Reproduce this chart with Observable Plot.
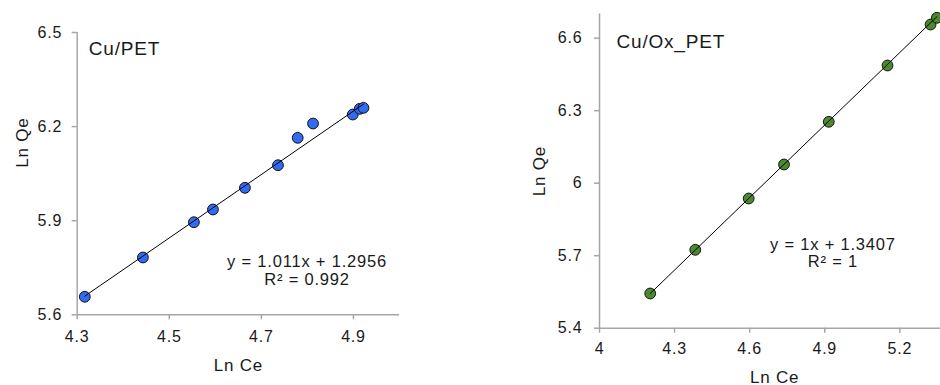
<!DOCTYPE html>
<html>
<head>
<meta charset="utf-8">
<script src="https://cdn.jsdelivr.net/npm/d3@7"></script>
<script src="https://cdn.jsdelivr.net/npm/@observablehq/plot@0.6"></script>
<style>
  html, body { margin: 0; padding: 0; background: #fff; overflow: hidden; }
  #wrap { position: relative; width: 940px; height: 385px; overflow: hidden; }
  #left, #right { position: absolute; top: 0; }
  #left { left: 0; width: 470px; }
  #right { left: 470px; width: 500px; }
  #wrap svg { max-width: none !important; }
</style>
</head>
<body>
<div id="wrap"><div id="left"></div><div id="right"></div></div>
<script>
// ---- Data ----
const cuPetLnCe = [4.3165, 4.4427, 4.5535, 4.5948, 4.6643, 4.7361, 4.7789, 4.8122, 4.8985, 4.9137, 4.9217];
const cuPetLnQe = [5.6575, 5.7827, 5.8952, 5.9357, 6.0048, 6.0769, 6.1642, 6.2098, 6.2385, 6.2567, 6.2599];
const cuPetFit = {slope: 1.011, intercept: 1.2956};
const cuPetEquation = ["y = 1.011x + 1.2956", "R² = 0.992"];
const cuPetXTicks = [4.3, 4.5, 4.7, 4.9];
const cuPetYTicks = [5.6, 5.9, 6.2, 6.5];
const cuPetXDomain = [4.3, 5.0];
const cuPetYDomain = [5.6, 6.5];

const cuOxLnCe = [4.2027, 4.3827, 4.5960, 4.7373, 4.9160, 5.1507, 5.3227, 5.3480];
const cuOxLnQe = [5.5436, 5.7244, 5.9366, 6.0773, 6.2540, 6.4869, 6.6565, 6.6842];
const cuOxFit = {slope: 1, intercept: 1.3407};
const cuOxEquation = ["y = 1x + 1.3407", "R² = 1"];
const cuOxXTicks = [4, 4.3, 4.6, 4.9, 5.2];
const cuOxYTicks = [5.4, 5.7, 6, 6.3, 6.6];
const cuOxXDomain = [4, 5.4];
const cuOxYDomain = [5.4, 6.7];

const xLabel = "Ln Ce";
const yLabel = "Ln Qe";

// ---- Styles ----
const AXIS = "#a6a6a6";
const TEXT = "#1a1a1a";
const FONT = "'Liberation Sans', Arial, sans-serif";

function panel(o) {
  const pts = o.xs.map((x, i) => ({x, y: o.ys[i]}));
  const x0 = d3.min(o.xs), x1 = d3.max(o.xs);
  const fitLine = [x0, x1].map(x => ({x, y: o.fit.slope * x + o.fit.intercept}));
  return Plot.plot({
    width: o.width, height: 385,
    marginLeft: o.ml, marginRight: o.mr, marginTop: o.mt, marginBottom: o.mb,
    x: {domain: o.xDomain, label: null},
    y: {domain: o.yDomain, label: null},
    style: {fontFamily: FONT, fontSize: "16px", color: TEXT, background: "transparent", overflow: "visible", letterSpacing: "0.8px"},
    marks: [
      Plot.axisX({ticks: o.xTicks, tickSize: 5, tickPadding: o.xPad, stroke: AXIS, strokeWidth: 1.5, fill: TEXT, tickFormat: d => String(d), label: null, fontSize: 16}),
      Plot.axisY({ticks: o.yTicks, tickSize: 5, tickPadding: o.yPad, stroke: AXIS, strokeWidth: 1.5, fill: TEXT, tickFormat: d => String(d), label: null, fontSize: 16}),
      Plot.ruleY([o.yDomain[0]], {stroke: AXIS, strokeWidth: 1.5}),
      Plot.ruleX([o.xDomain[0]], {stroke: AXIS, strokeWidth: 1.5}),
      Plot.dot(pts, {x: "x", y: "y", r: 5.4, fill: o.color, stroke: "#111", strokeWidth: 1}),
      Plot.line(fitLine, {x: "x", y: "y", stroke: "#000", strokeWidth: 1}),
      Plot.text([o.title], {frameAnchor: "top-left", textAnchor: "start", lineAnchor: "middle", dx: o.titleDx, dy: o.titleDy, fontSize: 19, fill: TEXT}),
      Plot.text([o.equation.join("\n")], {frameAnchor: "bottom-right", textAnchor: "middle", lineAnchor: "middle", lineHeight: 1.07, dx: o.eqDx, dy: o.eqDy, fontSize: 16.5, fill: TEXT}),
      Plot.text([xLabel], {frameAnchor: "bottom", textAnchor: "middle", lineAnchor: "middle", dy: o.xlDy, fontSize: 17, fill: TEXT}),
      Plot.text([yLabel], {frameAnchor: "left", textAnchor: "middle", lineAnchor: "middle", rotate: -90, dx: o.ylDx, dy: o.ylDy, fontSize: 17, fill: TEXT})
    ]
  });
}

document.getElementById("left").append(panel({
  xs: cuPetLnCe, ys: cuPetLnQe, fit: cuPetFit, equation: cuPetEquation, title: "Cu/PET",
  xTicks: cuPetXTicks, yTicks: cuPetYTicks, xDomain: cuPetXDomain, yDomain: cuPetYDomain,
  color: "#2f6cf2",
  width: 470, ml: 76.7, mr: 71, mt: 32, mb: 70.7,
  xPad: 11, yPad: 10,
  titleDx: 11.6, titleDy: 16.3,
  eqDx: -92.5, eqDy: -44.3,
  xlDy: 51.2, ylDx: -55, ylDy: -31
}));

document.getElementById("right").append(panel({
  xs: cuOxLnCe, ys: cuOxLnQe, fit: cuOxFit, equation: cuOxEquation, title: "Cu/Ox_PET",
  xTicks: cuOxXTicks, yTicks: cuOxYTicks, xDomain: cuOxXDomain, yDomain: cuOxYDomain,
  color: "#4b8a2c",
  width: 500, ml: 129, mr: 20.6, mt: 13.5, mb: 57.3,
  xPad: 9, yPad: 12,
  titleDx: 17, titleDy: 28.2,
  eqDx: -117, eqDy: -75.2,
  xlDy: 49.8, ylDx: -60, ylDy: 0
}));
</script>
</body>
</html>
